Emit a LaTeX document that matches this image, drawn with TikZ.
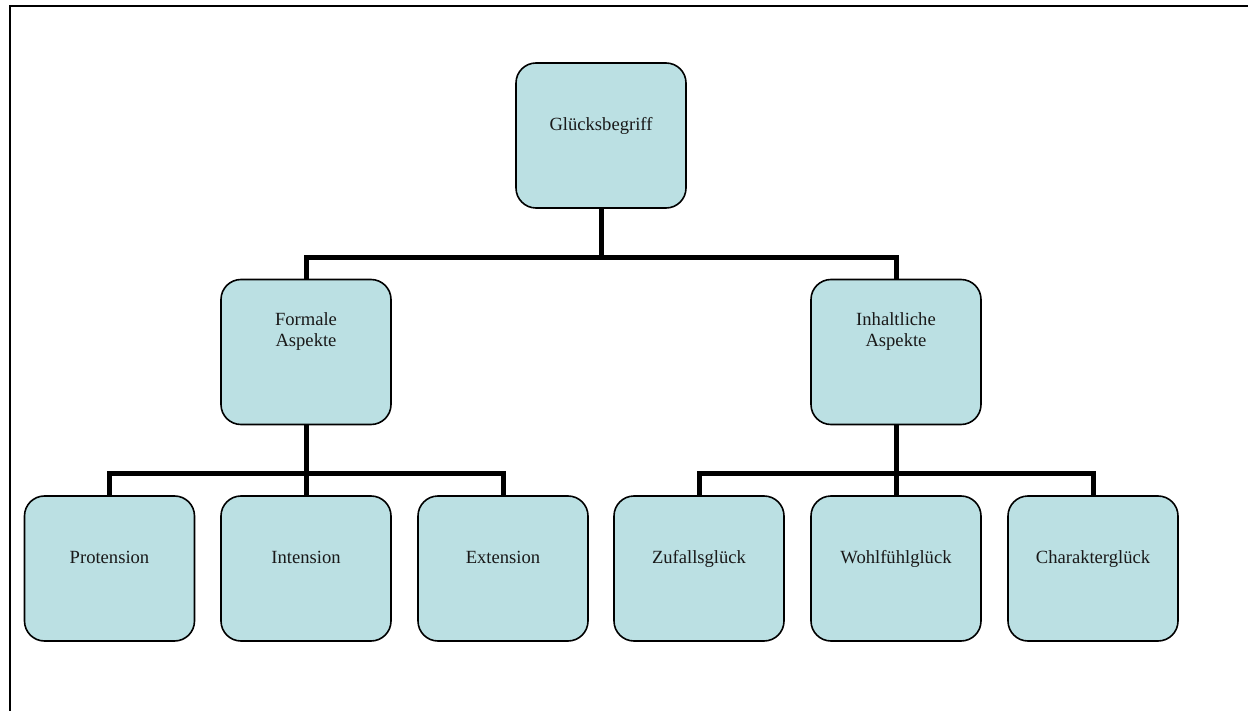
\documentclass[tikz,border=0pt]{standalone}
\usepackage{fontspec}
\setmainfont{Liberation Serif}
\usetikzlibrary{calc}
\definecolor{boxfill}{RGB}{187,224,227}
\definecolor{txt}{RGB}{25,25,25}
\begin{document}
\begin{tikzpicture}[x=1pt,y=-1pt,
  box/.style={draw=black,line width=1.6pt,fill=boxfill,rounded corners=20pt,
    minimum width=170pt,minimum height=145pt,inner sep=0pt},
  lbl/.style={text=txt,font=\fontsize{18.6}{21}\selectfont,align=center,inner sep=0pt},
  onelbl/.style={lbl,anchor=base},
  conn/.style={draw=black,line width=5pt,line join=miter},
  frame/.style={draw=black,line width=2pt,line join=miter}]
\useasboundingbox (0,0) rectangle (1248,711);

% page frame (top and left edges)
\coordinate (fa1) at (1248,6);
\coordinate (fc) at (10,6);
\coordinate (fb1) at (10,711);
\draw[frame] (fa1) -- (fc) -- (fb1);

% boxes
\node[box] (g)  at (601,135.5) {};
\node[box] (fa) at (306,352) {};
\node[box] (ia) at (896,352) {};
\node[box] (p)  at (109.5,568.5) {};
\node[box] (i)  at (306,568.5) {};
\node[box] (e)  at (503,568.5) {};
\node[box] (z)  at (699,568.5) {};
\node[box] (w)  at (896,568.5) {};
\node[box] (c)  at (1093,568.5) {};

% labels
\node[onelbl] (gt)  at ($(g.north)+(0,68.5)$) {Glücksbegriff};
\node[lbl] (fat) at ($(fa.north)+(0,52.5)$) {Formale\\Aspekte};
\node[lbl] (iat) at ($(ia.north)+(0,52.5)$) {Inhaltliche\\Aspekte};
\node[onelbl] (pt)  at ($(p.north)+(0,68.5)$) {Protension};
\node[onelbl] (it)  at ($(i.north)+(0,68.5)$) {Intension};
\node[onelbl] (et)  at ($(e.north)+(0,68.5)$) {Extension};
\node[onelbl] (zt)  at ($(z.north)+(0,68.5)$) {Zufallsglück};
\node[onelbl] (wt)  at ($(w.north)+(0,68.5)$) {Wohlfühlglück};
\node[onelbl] (ct)  at ($(c.north)+(0,68.5)$) {Charakterglück};

% connectors
\draw[conn] (g.south) -- ++(0,49) coordinate (j1);
\draw[conn] (fa.north) |- (j1) -| (ia.north);

\draw[conn] (fa.south) -- ++(0,48.5) coordinate (j2);
\draw[conn] (p.north) |- (j2) -| (e.north);
\draw[conn] (j2) -- (i.north);

\draw[conn] (ia.south) -- ++(0,48.5) coordinate (j3);
\draw[conn] (z.north) |- (j3) -| (c.north);
\draw[conn] (j3) -- (w.north);
\end{tikzpicture}
\end{document}
